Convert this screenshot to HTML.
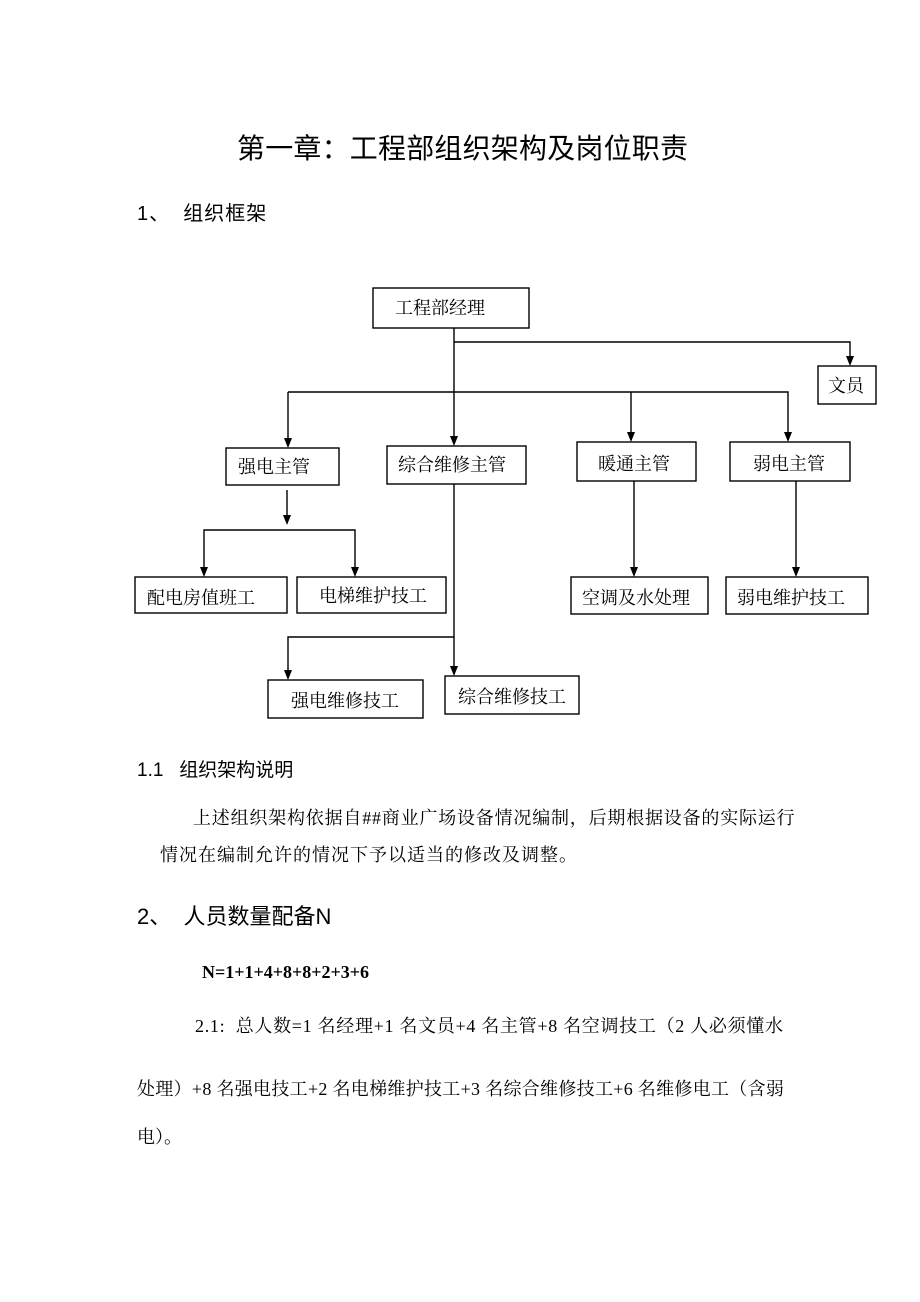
<!DOCTYPE html>
<html><head><meta charset="utf-8"><style>
body{margin:0;width:920px;height:1302px;background:#fff;position:relative;overflow:hidden}
.t{position:absolute;white-space:nowrap;color:#000;line-height:1}
.s{font-family:"Liberation Sans","Noto Sans CJK SC",sans-serif}
.r{font-family:"Liberation Serif","Noto Serif CJK SC",serif}
svg{position:absolute;left:0;top:0}
</style></head><body>
<div class="t s" style="left:237px;top:135px;font-size:28px;letter-spacing:0.2px">第一章：工程部组织架构及岗位职责</div>
<div class="t s" style="left:137px;top:204px;font-size:20px;letter-spacing:1px">1、&nbsp;&nbsp;组织框架</div>

<svg width="920" height="1302" viewBox="0 0 920 1302">
<g fill="none" stroke="#000" stroke-width="1.4">
<rect x="373" y="288" width="156" height="40"/>
<rect x="818" y="366" width="58" height="38"/>
<rect x="226" y="448" width="113" height="37"/>
<rect x="387" y="446" width="139" height="38"/>
<rect x="577" y="442" width="119" height="39"/>
<rect x="730" y="442" width="120" height="39"/>
<rect x="135" y="577" width="152" height="36"/>
<rect x="297" y="577" width="149" height="36"/>
<rect x="571" y="577" width="137" height="37"/>
<rect x="726" y="577" width="142" height="37"/>
<rect x="268" y="680" width="155" height="38"/>
<rect x="445" y="676" width="134" height="38"/>
</g>
<g stroke="#000" stroke-width="1.4" fill="none">
<path d="M454 328 V444"/>
<path d="M454 342 H850 V364"/>
<path d="M288 392 H788 V440"/>
<path d="M288 392 V446"/>
<path d="M631 392 V440"/>
<path d="M287 490 V523"/>
<path d="M204 575 V530 H355 V575"/>
<path d="M454 484 V674"/>
<path d="M454 637 H288 V678"/>
<path d="M634 481 V575"/>
<path d="M796 481 V575"/>
</g>
<g fill="#000">
<path d="M450 436 L458 436 L454 446Z"/>
<path d="M846 356 L854 356 L850 366Z"/>
<path d="M284 438 L292 438 L288 448Z"/>
<path d="M627 432 L635 432 L631 442Z"/>
<path d="M784 432 L792 432 L788 442Z"/>
<path d="M283 515 L291 515 L287 525Z"/>
<path d="M200 567 L208 567 L204 577Z"/>
<path d="M351 567 L359 567 L355 577Z"/>
<path d="M450 666 L458 666 L454 676Z"/>
<path d="M284 670 L292 670 L288 680Z"/>
<path d="M630 567 L638 567 L634 577Z"/>
<path d="M792 567 L800 567 L796 577Z"/>
</g>
</svg>

<div class="t r" style="left:395px;top:299px;font-size:18px">工程部经理</div>
<div class="t r" style="left:828px;top:377px;font-size:18px">文员</div>
<div class="t r" style="left:238px;top:458px;font-size:18px">强电主管</div>
<div class="t r" style="left:398px;top:456px;font-size:18px">综合维修主管</div>
<div class="t r" style="left:598px;top:455px;font-size:18px">暖通主管</div>
<div class="t r" style="left:753px;top:455px;font-size:18px">弱电主管</div>
<div class="t r" style="left:147px;top:589px;font-size:18px">配电房值班工</div>
<div class="t r" style="left:319px;top:587px;font-size:18px">电梯维护技工</div>
<div class="t r" style="left:582px;top:589px;font-size:18px">空调及水处理</div>
<div class="t r" style="left:737px;top:589px;font-size:18px">弱电维护技工</div>
<div class="t r" style="left:291px;top:692px;font-size:18px">强电维修技工</div>
<div class="t r" style="left:458px;top:688px;font-size:18px">综合维修技工</div>

<div class="t s" style="left:137px;top:761px;font-size:19px">1.1&nbsp;&nbsp;&nbsp;组织架构说明</div>
<div class="t r" style="left:193px;top:809px;font-size:18px;letter-spacing:0.8px">上述组织架构依据自##商业广场设备情况编制，后期根据设备的实际运行</div>
<div class="t r" style="left:160px;top:846px;font-size:18px;letter-spacing:1px">情况在编制允许的情况下予以适当的修改及调整。</div>
<div class="t s" style="left:137px;top:906px;font-size:22px">2、&nbsp;&nbsp;人员数量配备N</div>
<div class="t r" style="left:202px;top:963px;font-size:18px;font-weight:bold">N=1+1+4+8+8+2+3+6</div>
<div class="t r" style="left:195px;top:1017px;font-size:18px;letter-spacing:0.7px">2.1:&nbsp;&nbsp;总人数=1 名经理+1 名文员+4 名主管+8 名空调技工（2 人必须懂水</div>
<div class="t r" style="left:137px;top:1080px;font-size:18px;letter-spacing:0.3px">处理）+8 名强电技工+2 名电梯维护技工+3 名综合维修技工+6 名维修电工（含弱</div>
<div class="t r" style="left:137px;top:1128px;font-size:18px">电）。</div>
</body></html>
